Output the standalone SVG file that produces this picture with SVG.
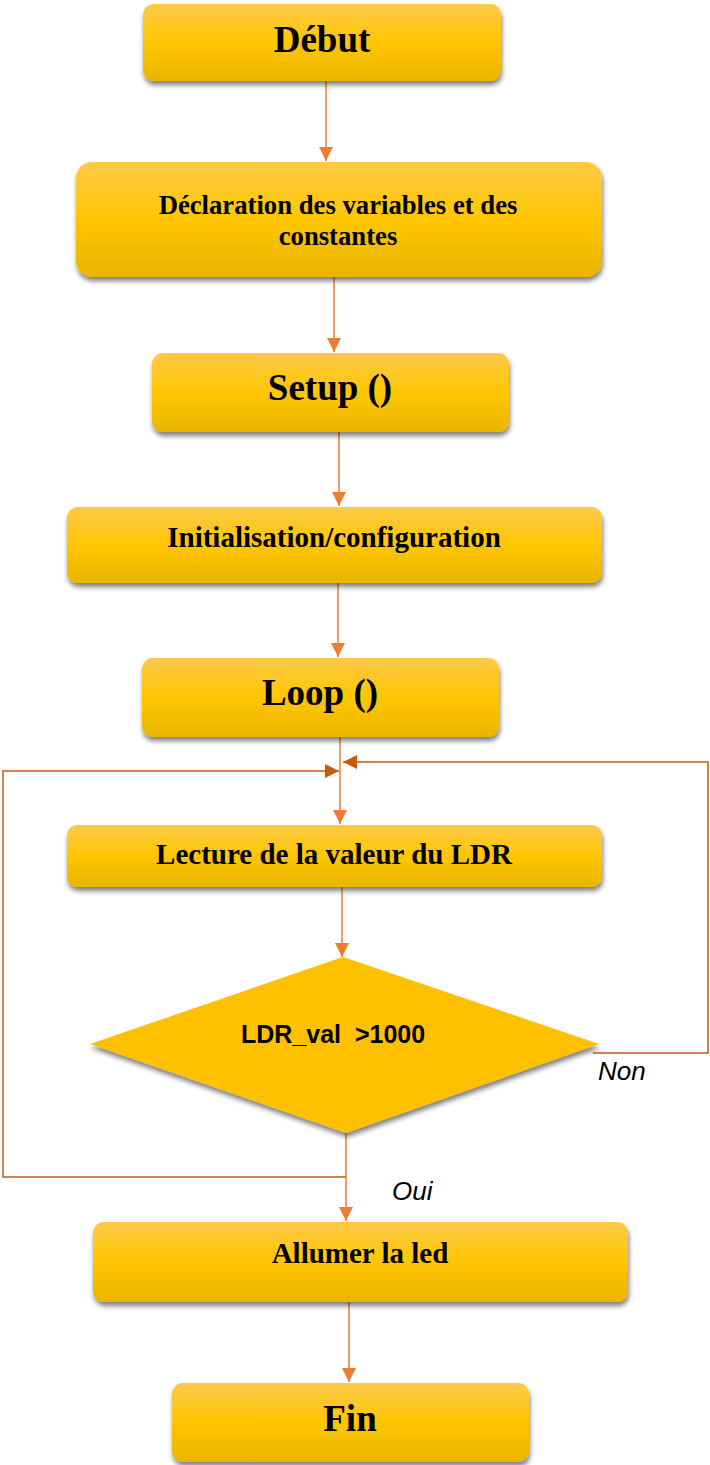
<svg xmlns="http://www.w3.org/2000/svg" width="710" height="1465" viewBox="0 0 710 1465">
  <defs>
    <linearGradient id="gold" x1="0" y1="0" x2="0" y2="1">
      <stop offset="0" stop-color="#FFC94A"/>
      <stop offset="0.5" stop-color="#FFC600"/>
      <stop offset="1" stop-color="#E8B500"/>
    </linearGradient>
    <filter id="shadow" x="-10%" y="-20%" width="120%" height="150%">
      <feDropShadow dx="1" dy="4" stdDeviation="2.5" flood-color="#000" flood-opacity="0.5"/>
    </filter>
    <marker id="arrowMain" markerUnits="userSpaceOnUse" markerWidth="14" markerHeight="14" refX="14" refY="7" orient="auto">
      <path d="M0,0 L14,7 L0,14 z" fill="#ED7D31"/>
    </marker>
    <marker id="arrowLoop" markerUnits="userSpaceOnUse" markerWidth="14" markerHeight="14" refX="14" refY="7" orient="auto">
      <path d="M0,0 L14,7 L0,14 z" fill="#C55A11"/>
    </marker>
  </defs>
  <style>
    .box { fill: url(#gold); filter: url(#shadow); }
    .title { font-family: "Liberation Serif", "Times New Roman", serif; font-weight: bold; font-size: 37px; fill: #000; text-anchor: middle; }
    .label { font-family: "Liberation Serif", "Times New Roman", serif; font-weight: bold; font-size: 29px; fill: #000; text-anchor: middle; }
    .small { font-size: 26.7px; }
    .cond { font-family: "Liberation Sans", Arial, sans-serif; font-weight: bold; font-size: 25px; fill: #000; white-space: pre; }
    .branch { font-family: "Liberation Sans", Arial, sans-serif; font-style: italic; font-size: 26px; fill: #000; }
    .flow { stroke: #ED7D31; stroke-width: 1.5; fill: none; marker-end: url(#arrowMain); }
    .backArrow { stroke: #C55A11; stroke-width: 1.5; fill: none; marker-end: url(#arrowLoop); }
  </style>

  <!-- connectors -->
  <g id="connectors">
    <line class="flow" x1="326" y1="81" x2="326" y2="161"/>
    <line class="flow" x1="334" y1="277" x2="334" y2="352"/>
    <line class="flow" x1="339" y1="432" x2="339" y2="506"/>
    <line class="flow" x1="338" y1="583" x2="338" y2="657"/>
    <line class="flow" x1="340" y1="737" x2="340" y2="824"/>
    <line class="flow" x1="342" y1="887" x2="342" y2="957"/>
    <line class="flow" x1="346" y1="1133" x2="346" y2="1221"/>
    <line class="flow" x1="349" y1="1302" x2="349" y2="1382"/>
    <!-- "Oui" side branch back to the loop entry -->
    <polyline class="backArrow" points="346,1177 3,1177 3,771 339,771"/>
    <!-- "Non" branch back to the loop entry -->
    <polyline class="backArrow" points="593,1053 708,1053 708,762 343,762"/>
  </g>

  <g id="debut">
    <rect class="box" x="143" y="4" width="358" height="77" rx="11"/>
    <text class="title" x="322" y="52">Début</text>
  </g>

  <g id="declaration">
    <rect class="box" x="76" y="162" width="526" height="115" rx="16"/>
    <text class="label small" x="338" y="214">Déclaration des variables et des</text>
    <text class="label small" x="338" y="245">constantes</text>
  </g>

  <g id="setup">
    <rect class="box" x="152" y="353" width="357" height="79" rx="11"/>
    <text class="title" x="330" y="400">Setup ()</text>
  </g>

  <g id="init">
    <rect class="box" x="67" y="507" width="535" height="76" rx="11"/>
    <text class="label" x="334" y="547">Initialisation/configuration</text>
  </g>

  <g id="loop">
    <rect class="box" x="142" y="658" width="357" height="79" rx="11"/>
    <text class="title" x="320" y="705">Loop ()</text>
  </g>

  <g id="lecture">
    <rect class="box" x="67" y="825" width="535" height="62" rx="10"/>
    <text class="label" x="334" y="864">Lecture de la valeur du LDR</text>
  </g>

  <g id="decision">
    <polygon points="343,957 599,1044 346,1133 90,1044" fill="#FFC000" filter="url(#shadow)"/>
    <text class="cond" x="241" y="1043">LDR_val  &gt;1000</text>
  </g>

  <g id="labels">
    <text class="branch" x="598" y="1080">Non</text>
    <text class="branch" x="392" y="1200">Oui</text>
  </g>

  <g id="allumer">
    <rect class="box" x="93" y="1222" width="535" height="80" rx="11"/>
    <text class="label" x="360" y="1263">Allumer la led</text>
  </g>

  <g id="fin">
    <rect class="box" x="172" y="1383" width="357" height="79" rx="11"/>
    <text class="title" x="350" y="1431">Fin</text>
  </g>
</svg>
